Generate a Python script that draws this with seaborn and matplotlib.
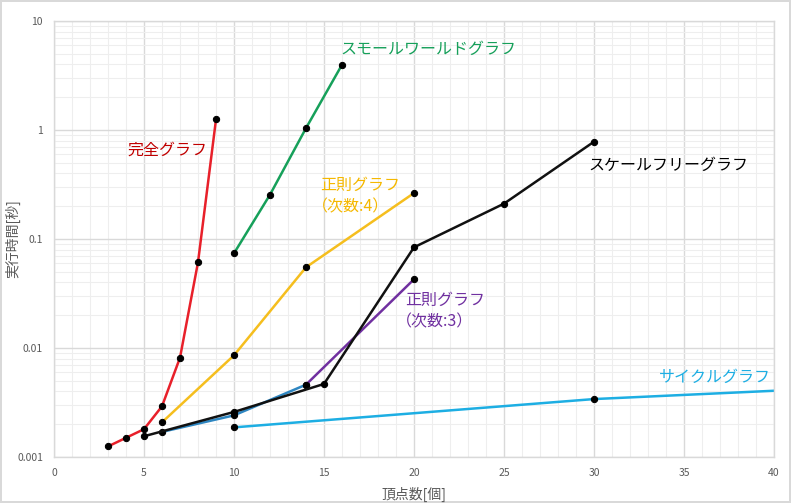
import numpy as np
import pandas as pd
import matplotlib
matplotlib.use("Agg")
import matplotlib.pyplot as plt
from matplotlib.ticker import FixedLocator, MultipleLocator, LogLocator, NullFormatter
import seaborn as sns

sns.set_style("white")
plt.rcParams['font.family'] = ['Noto Sans CJK JP', 'DejaVu Sans']

# 読み取った値 (x: 頂点数, y: 実行時間[秒])
complete_x = [3, 4, 5, 6, 7, 8, 9]
complete_y = [0.00125, 0.00150, 0.00180, 0.00292, 0.00815, 0.0611, 1.25]

smallworld_x = [10, 12, 14, 16]
smallworld_y = [0.0739, 0.255, 1.04, 3.97]

regular4_x = [6, 10, 14, 20]
regular4_y = [0.00208, 0.00857, 0.055, 0.264]

scalefree_x = [5, 10, 15, 20, 25, 30]
scalefree_y = [0.00155, 0.00259, 0.00468, 0.0839, 0.211, 0.781]

regular3_x = [6, 10, 14, 20]
regular3_y = [0.00170, 0.00241, 0.00461, 0.0427]

cycle_x = [10, 30, 50]
cycle_y = [0.00187, 0.00340, 0.00483]

x_ticks = [0, 5, 10, 15, 20, 25, 30, 35, 40]
y_ticks = [0.001, 0.01, 0.1, 1, 10]
y_tick_labels = ['0.001', '0.01', '0.1', '1', '10']

fig = plt.figure(figsize=(7.91, 5.03), dpi=100)
fig.patch.set_edgecolor('#D9D9D9')
fig.patch.set_linewidth(1.5)
ax = fig.add_axes([54 / 791, 1 - 457 / 503, 720 / 791, 436 / 503])

mk = dict(marker='o', markersize=4.5, markerfacecolor='black', markeredgecolor='black',
          linewidth=1.8, clip_on=True)

def draw(xs, ys, color):
    df = pd.DataFrame({'x': xs, 'y': ys})
    sns.lineplot(data=df, x='x', y='y', color=color, ax=ax, sort=False, **mk)

draw(complete_x, complete_y, '#E8202A')
draw(smallworld_x, smallworld_y, '#16A05A')
draw(regular4_x, regular4_y, '#F5BE1E')
draw(cycle_x, cycle_y, '#1DAEE3')
draw(regular3_x[:3], regular3_y[:3], '#2E86C1')
draw(regular3_x[2:], regular3_y[2:], '#7030A0')
draw(scalefree_x, scalefree_y, '#111111')

ax.set_yscale('log')
ax.set_xlim(0, 40)
ax.set_ylim(0.001, 10)
ax.xaxis.set_major_locator(FixedLocator(x_ticks))
ax.xaxis.set_minor_locator(MultipleLocator(1))
ax.yaxis.set_major_locator(FixedLocator(y_ticks))
ax.set_yticklabels(y_tick_labels)
ax.yaxis.set_minor_locator(LogLocator(base=10, subs=np.arange(2, 10)))
ax.yaxis.set_minor_formatter(NullFormatter())

ax.grid(which='major', color='#D9D9D9', linewidth=1.0)
ax.grid(which='minor', color='#EEEEEE', linewidth=0.8)
ax.set_axisbelow(True)
for s in ax.spines.values():
    s.set_color('#D9D9D9')
    s.set_linewidth(1.0)
ax.tick_params(which='both', length=0, labelsize=7.5, colors='#595959', pad=8)

ax.set_xlabel('頂点数[個]', fontsize=10, color='#595959', labelpad=6)
ax.set_ylabel('実行時間[秒]', fontsize=10, color='#595959')
ax.yaxis.set_label_coords(-0.047, 0.5)

lab = dict(fontsize=11.5, va='center', ha='left')
ax.text(4.1, 0.65, '完全グラフ', color='#C00000', **lab)
ax.text(15.9, 5.5, 'スモールワールドグラフ', color='#16A05A', **lab)
ax.text(14.8, 0.31, '正則グラフ', color='#F5B800', **lab)
ax.text(14.3, 0.197, '（次数:4）', color='#F5B800', **lab)
ax.text(29.7, 0.477, 'スケールフリーグラフ', color='#000000', **lab)
ax.text(19.5, 0.0275, '正則グラフ', color='#7030A0', **lab)
ax.text(19.0, 0.0173, '（次数:3）', color='#7030A0', **lab)
ax.text(33.6, 0.0054, 'サイクルグラフ', color='#1DAEE3', **lab)

fig.savefig('out.png', dpi=100)
